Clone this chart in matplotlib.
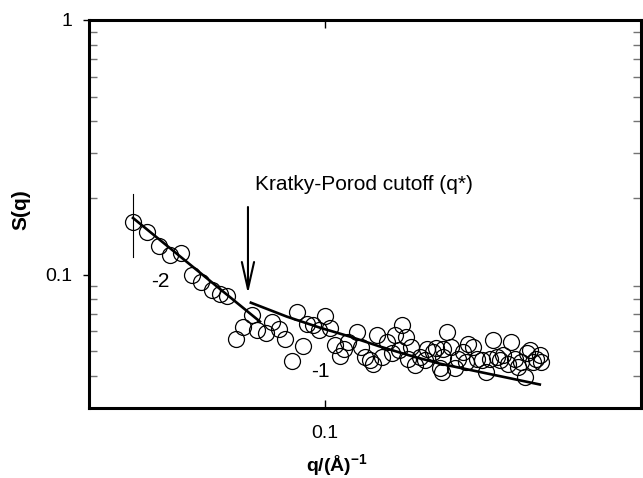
import numpy as np
import matplotlib
matplotlib.use('Agg')
import matplotlib.pyplot as plt
from matplotlib.ticker import LogLocator, NullLocator, FixedLocator, FixedFormatter

plt.rcParams['font.family'] = ['Liberation Sans', 'DejaVu Sans']
plt.rcParams['mathtext.fontset'] = 'custom'
plt.rcParams['mathtext.rm'] = 'Liberation Sans'
plt.rcParams['mathtext.bf'] = 'Liberation Sans:bold'

# measured points S(q)
q = [0.03759, 0.04037, 0.04291, 0.04532, 0.04793, 0.05062, 0.05308, 0.05605, 0.05846, 0.06068,
     0.06343, 0.06584, 0.06881, 0.07069, 0.07379, 0.07631, 0.07897, 0.08140, 0.08424, 0.08666,
     0.08909, 0.09121, 0.09403, 0.09696, 0.09982, 0.1024, 0.1050, 0.1077, 0.1100, 0.1124,
     0.1173, 0.1203, 0.1224, 0.1256, 0.1277, 0.1303, 0.1333, 0.1367, 0.1402, 0.1426,
     0.1455, 0.1480, 0.1508, 0.1526, 0.1552, 0.1579, 0.1620, 0.1662, 0.1684, 0.1733,
     0.1763, 0.1793, 0.1823, 0.1856, 0.1823, 0.1809, 0.1903, 0.1935, 0.1968, 0.2019,
     0.2071, 0.2054, 0.2125, 0.2162, 0.2218, 0.2275, 0.2314, 0.2353, 0.2394, 0.2435,
     0.2476, 0.2540, 0.2584, 0.2628, 0.2673, 0.2719, 0.2765, 0.2798, 0.2837, 0.2885,
     0.2935, 0.2985, 0.3011]
S = [0.1616, 0.1470, 0.1302, 0.1197, 0.1219, 0.0994, 0.0936, 0.0874, 0.0843, 0.0825,
     0.0562, 0.0624, 0.0697, 0.0605, 0.0593, 0.0653, 0.0611, 0.0558, 0.0458, 0.0715,
     0.0524, 0.0639, 0.0633, 0.0605, 0.0689, 0.0619, 0.0529, 0.0481, 0.0513, 0.0545,
     0.0597, 0.0521, 0.0476, 0.0462, 0.0448, 0.0582, 0.0476, 0.0545, 0.0491, 0.0579,
     0.0506, 0.0633, 0.0570, 0.0469, 0.0521, 0.0442, 0.0476, 0.0462, 0.0513, 0.0498,
     0.0516, 0.0429, 0.0476, 0.0597, 0.0513, 0.0417, 0.0521, 0.0429, 0.0469, 0.0498,
     0.0537, 0.0455, 0.0521, 0.0469, 0.0462, 0.0416, 0.0469, 0.0553, 0.0476, 0.0462,
     0.0483, 0.0448, 0.0545, 0.0469, 0.0435, 0.0455, 0.0398, 0.0491, 0.0506, 0.0455,
     0.0469, 0.0483, 0.0455]

# error bar on the first point
err_q = 0.03759
err_lo, err_hi = 0.1176, 0.2075

# slope -2 fit line
fit2_q = [0.03754, 0.0717]
fit2_S = [0.1671, 0.0655]

# slope -1 fit curve
fit1_q = [0.06846, 0.08225, 0.09732, 0.1134, 0.1321, 0.1539, 0.1793, 0.2122, 0.2985]
fit1_S = [0.0777, 0.0685, 0.0620, 0.0572, 0.0523, 0.0482, 0.0448, 0.0421, 0.0371]

# cutoff arrow
q_star = 0.06745
arrow_from, arrow_to = 0.1845, 0.0843

fig = plt.figure(figsize=(6.43, 4.78), dpi=100)
ax = fig.add_axes([89 / 643, 1 - 408 / 478, (641 - 89) / 643, (408 - 20) / 478])
ax.set_xscale('log')
ax.set_yscale('log')
ax.set_xlim(0.03, 0.5)
ax.set_ylim(0.03, 1)

ax.plot(q, S, 'o', mfc='none', mec='black', ms=11.5, mew=0.9, zorder=2)
ax.plot([err_q, err_q], [err_lo, err_hi], color='black', lw=0.8, zorder=2)
ax.plot(fit2_q, fit2_S, color='black', lw=1.9, zorder=3)
ax.plot(fit1_q, fit1_S, color='black', lw=1.9, zorder=3)

ax.annotate('', xy=(q_star, arrow_to), xytext=(q_star, arrow_from),
            arrowprops=dict(arrowstyle='->,head_length=0.97,head_width=0.22',
                            lw=1.5, color='black', mutation_scale=20,
                            shrinkA=0, shrinkB=0))

ax.text(0.0699, 0.2271, 'Kratky-Porod cutoff (q*)', fontsize=15, ha='left', va='center')
ax.text(0.04307, 0.0939, '-2', fontsize=15, ha='center', va='center')
ax.text(0.0978, 0.0417, '-1', fontsize=15, ha='center', va='center')

# ticks
ax.xaxis.set_major_locator(FixedLocator([0.1]))
ax.xaxis.set_major_formatter(FixedFormatter(['0.1']))
ax.xaxis.set_minor_locator(NullLocator())
ax.yaxis.set_major_locator(FixedLocator([0.1, 1]))
ax.yaxis.set_major_formatter(FixedFormatter(['0.1', '1']))
ax.yaxis.set_minor_locator(LogLocator(base=10, subs=np.arange(2, 10)))
ax.yaxis.set_minor_formatter(FixedFormatter([]))

ax.tick_params(axis='x', which='major', direction='in', top=True, bottom=True,
               length=6, width=1, labelsize=14, pad=12)
ax.tick_params(axis='y', which='major', direction='out', left=True, right=False,
               length=4, width=1, labelsize=14, pad=8)
ax.tick_params(axis='y', which='minor', direction='in', left=True, right=True,
               length=6, width=1, color='0.45')

for sp in ax.spines.values():
    sp.set_linewidth(2.2)

fig.text(21 / 643, 1 - 210 / 478, 'S(q)', fontsize=15, fontweight='bold',
         rotation=90, ha='center', va='center')
fig.text(337 / 643, 1 - 465 / 478, r'$\mathbf{q/(\AA)^{-1}}$', fontsize=14,
         ha='center', va='center')

fig.savefig('out.png', dpi=100)
